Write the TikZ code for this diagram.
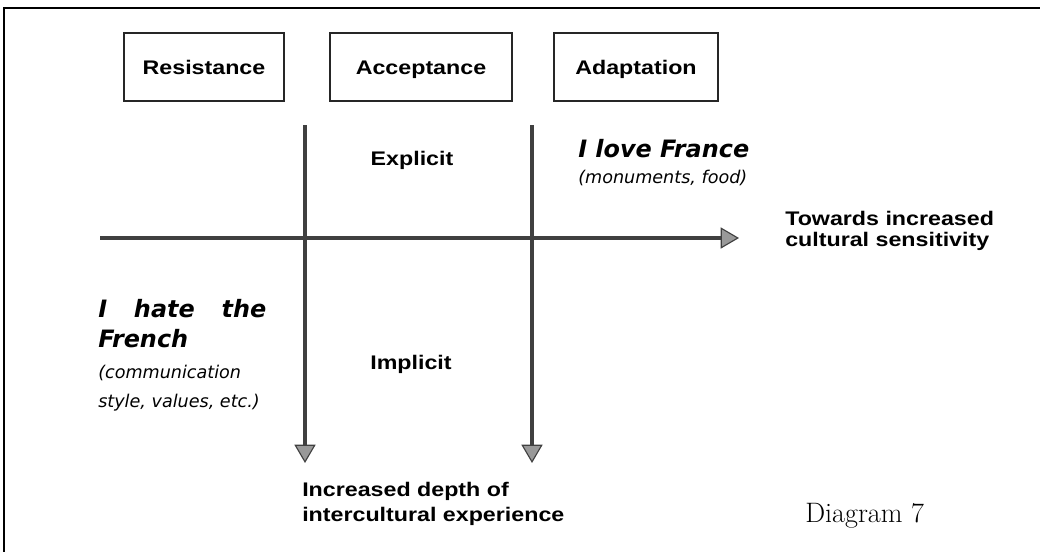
\documentclass[tikz,border=0pt]{standalone}
\usepackage{fontspec}
\usetikzlibrary{arrows.meta}
\newfontfamily\labelfont[FakeStretch=1.18]{Liberation Sans}
\newfontfamily\handfont{DejaVu Sans}

\tikzset{
  stage/.style={draw=black!85, line width=0.8pt, minimum height=1.7cm, inner sep=0pt,
                text height=11pt, text depth=0pt,
                font=\labelfont\bfseries\fontsize{14}{15}\selectfont},
  lbl/.style={inner sep=0pt, align=left, font=\labelfont\bfseries\fontsize{14}{15}\selectfont},
  hand/.style={inner sep=0pt, align=left, font=\handfont\bfseries\itshape\fontsize{17}{21.5}\selectfont},
  handsmall/.style={inner sep=0pt, font=\handfont\itshape\fontsize{12.5}{21.5}\selectfont},
  axis/.style={color=black!75, line width=2.2pt,
               -{Triangle[length=13pt,width=15pt,fill=black!40,line width=0.8pt]}}
}

\begin{document}
\begin{tikzpicture}[x=0.025cm, y=-0.025cm]
\useasboundingbox (0,0) rectangle (1040,552);
% frame, only top and left edges show
\draw[line width=1.2pt] (1040,8) -- (4,8) -- (4,552);

\begin{scope}
    \node[stage, minimum width=4cm]    (res) at (204,67) {Resistance};
    \node[stage, minimum width=4.55cm] (acc) at (421,67) {Acceptance};
    \node[stage, minimum width=4.1cm]  (ada) at (636,67) {Adaptation};

    \coordinate (v1a) at (305,125);
    \coordinate (v1b) at (305,463);
    \coordinate (v2a) at (532,125);
    \coordinate (v2b) at (532,463);
    \coordinate (ha) at (100,238);
    \coordinate (hb) at (739,238);
\end{scope}

\begin{scope}[axis]
    \draw (ha) -- (hb);
    \draw (v1a) -- (v1b);
    \draw (v2a) -- (v2b);
\end{scope}

\node[lbl, anchor=base] (expl) at (412,165) {Explicit};
\node[lbl, anchor=base] (impl) at (411,369) {Implicit};
\node[lbl, anchor=north west] (tow) at (785,211) {Towards increased\\cultural sensitivity};
\node[lbl, anchor=north west, font=\labelfont\bfseries\fontsize{14}{18}\selectfont] (dep) at (302,482)
    {Increased depth of\\intercultural experience};

\node[hand, anchor=base west] (love) at (578,157) {I love France};
\node[handsmall, anchor=base west] (lovex) at (578,183) {(monuments, food)};
\node[hand, anchor=north west] (hate) at (98,299) {\makebox[4.2cm][s]{I hate the}\\French};
\node[handsmall, anchor=base west] (hatex) at (98,378) {(communication};
\node[handsmall, anchor=base west] (hatey) at (98,407) {style, values, etc.)};

\node[anchor=base west, inner sep=0pt, font=\fontsize{20}{24}\selectfont] (cap) at (805,522) {Diagram 7};
\end{tikzpicture}
\end{document}
